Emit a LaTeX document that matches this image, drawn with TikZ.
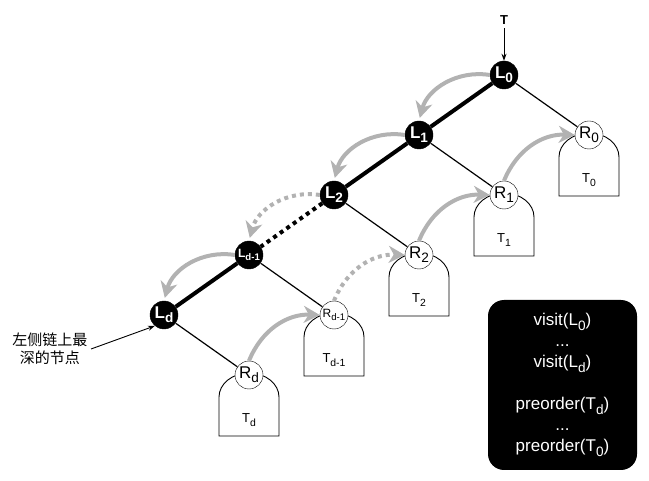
\documentclass[tikz,border=0pt]{standalone}
\usepackage{fontspec}
\usepackage{graphicx}
\setmainfont{Liberation Sans}
\newfontfamily\cjk{Noto Sans CJK SC}
\usetikzlibrary{positioning, arrows.meta, calc}

% lowered index, as the drawing tool sets it
\newcommand{\dn}[1]{\raisebox{-0.25em}{\scalebox{0.8}{#1}}}

% dome-shaped subtree hanging below a right child
\newcommand{\subtree}[2]{%
  \draw[outline] ($(#1)+(-30,-61)$) -- ++(0,39)
    arc[start angle=180, end angle=0, x radius=30, y radius=24] -- ++(0,-39) -- cycle;
  \node[tlabel] (#1-tree) at ($(#1)+(0,-45)$) {T\dn{#2}};
}

\begin{document}
\begin{tikzpicture}[
    x=1pt, y=1pt,
    >={Stealth[length=7pt, width=5pt]},
    on grid,
    node distance=60pt and 85pt,   % one step down the left chain
    lnode/.style={circle, draw, fill=black, text=white, minimum size=28pt, inner sep=0pt,
                  font=\fontsize{17}{17}\selectfont\bfseries},
    rnode/.style={circle, draw, fill=white, minimum size=28pt, inner sep=0pt,
                  font=\fontsize{17}{17}\selectfont},
    tlabel/.style={font=\fontsize{13}{13}\selectfont},
    outline/.style={line width=0.9pt},
    chain/.style={-, line width=4pt},
    chaindots/.style={chain, dash pattern=on 4pt off 4pt},
    link/.style={-, line width=1.2pt},
    back/.style={-{Stealth[length=16pt, width=17pt, inset=5pt]}, line width=4pt, draw=black!30},
    backdots/.style={back, dash pattern=on 4pt off 4pt},
    codebox/.style={fill=black, rounded corners=16pt, minimum width=149pt, minimum height=170pt,
                    text=white, align=center, font=\fontsize{17}{21}\selectfont}
  ]
  \useasboundingbox (0,0) rectangle (649,-481);

  % --- LEFT CHAIN ---
  \node[lnode] (L0) at (504,-75) {L\dn{0}};
  \node[lnode, below left=of L0] (L1) {L\dn{1}};
  \node[lnode, below left=of L1] (L2) {L\dn{2}};
  \node[lnode, below left=of L2, font=\fontsize{12}{12}\selectfont\bfseries] (Ld1) {L\dn{d-1}};
  \node[lnode, below left=of Ld1] (Ld) {L\dn{d}};

  % --- RIGHT CHILDREN AND THEIR SUBTREES ---
  \coordinate[below right=of L0] (R0);
  \coordinate[below right=of L1] (R1);
  \coordinate[below right=of L2] (R2);
  \coordinate[below right=of Ld1] (Rd1);
  \coordinate[below right=of Ld] (Rd);

  \subtree{R0}{0}
  \subtree{R1}{1}
  \subtree{R2}{2}
  \subtree{Rd1}{d-1}
  \subtree{Rd}{d}

  \node[rnode] (R0) at (R0) {R\dn{0}};
  \node[rnode] (R1) at (R1) {R\dn{1}};
  \node[rnode] (R2) at (R2) {R\dn{2}};
  \node[rnode, font=\fontsize{12}{12}\selectfont] (Rd1) at (Rd1) {R\dn{d-1}};
  \node[rnode] (Rd) at (Rd) {R\dn{d}};

  % --- TREE EDGES ---
  \path (L0) edge[chain] (L1)
        (L1) edge[chain] (L2)
        (L2) edge[chaindots] (Ld1)
        (Ld1) edge[chain] (Ld);
  \path (L0) edge[link] (R0)
        (L1) edge[link] (R1)
        (L2) edge[link] (R2)
        (Ld1) edge[link] (Rd1)
        (Ld) edge[link] (Rd);

  % --- TRAVERSAL ORDER ---
  % going down the left chain
  \path (L0.west) edge[back, bend right=42, shorten >=3pt] (L1.north)
        (L1.west) edge[back, bend right=42, shorten >=3pt] (L2.north)
        (L2.west) edge[backdots, bend right=42, shorten >=3pt] (Ld1.north)
        (Ld1.west) edge[back, bend right=42, shorten >=3pt] (Ld.north);
  % coming back up through the right subtrees
  \path (Rd.north) edge[back, bend left=35] (Rd1.west)
        (Rd1.north) edge[backdots, bend left=35] (R2.west)
        (R2.north) edge[back, bend left=35] (R1.west)
        (R1.north) edge[back, bend left=35] (R0.west);

  % --- ENTRY POINT ---
  \node[font=\fontsize{13}{13}\selectfont\bfseries] (T) at (504,-20) {T};
  \path (T) edge[->, line width=0.9pt] (L0);

  % --- NOTE ON THE DEEPEST NODE ---
  \node[align=center, font=\cjk\fontsize{15}{18}\selectfont] (deep) at (50,-349) {左侧链上最\\深的节点};
  \path (deep.east) edge[->, line width=0.9pt] (Ld.230);

  % --- VISIT ORDER ---
  \node[codebox] (order) at (562.5,-385) {visit(L\dn{0})\\...\\visit(L\dn{d})\\[21pt]
    preorder(T\dn{d})\\...\\preorder(T\dn{0})};

\end{tikzpicture}
\end{document}
